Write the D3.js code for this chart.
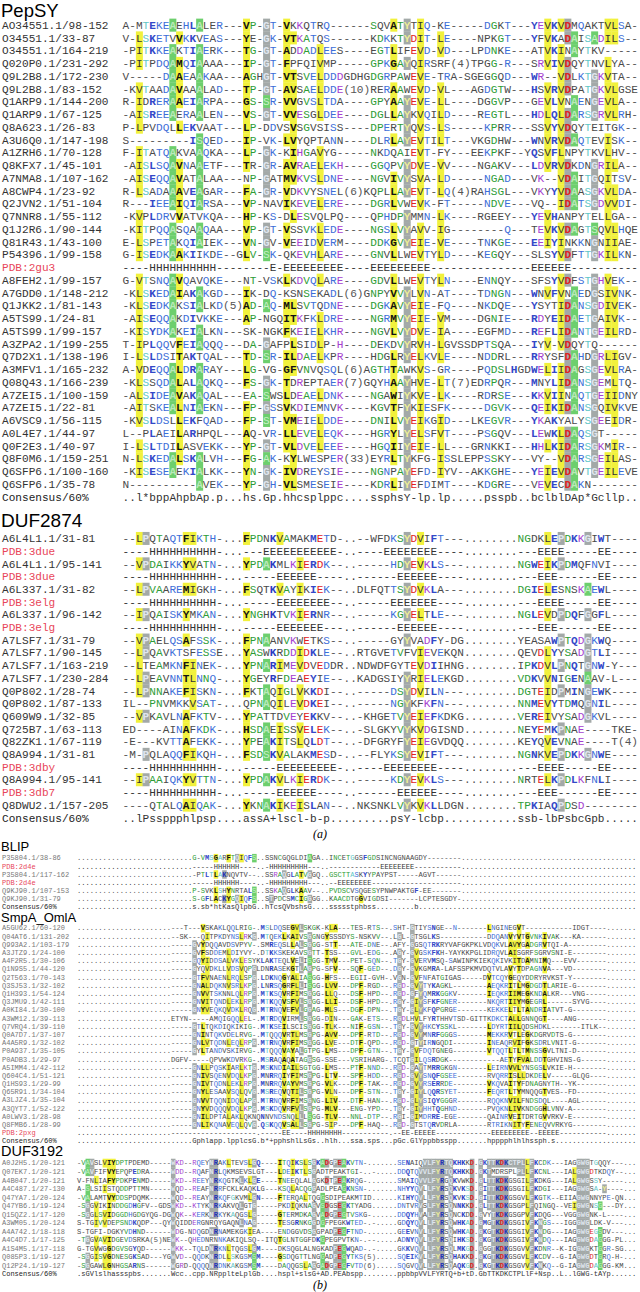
<!DOCTYPE html>
<html>
<head>
<meta charset="utf-8">
<script src="https://cdnjs.cloudflare.com/ajax/libs/d3/7.8.5/d3.min.js"></script>
<style>
  body { margin: 0; background: #fff; }
  text { font-family: "Liberation Mono", "Courier New", monospace; }
  .title { font-family: "Liberation Sans", Arial, sans-serif; }
  .panel { font-family: "Liberation Serif", "Times New Roman", serif; font-style: italic; }
</style>
</head>
<body>
<script>
// ---------- (a) PepSY ----------
var pepsyNames = ['AO34551.1/98-152', 'O34551.1/33-87', 'O34551.1/164-219', 'Q020P0.1/231-292',
  'Q9L2B8.1/172-230', 'Q9L2B8.1/83-152', 'Q1ARP9.1/144-200', 'Q1ARP9.1/67-125', 'Q8A623.1/26-83',
  'A3U6Q0.1/147-198', 'A1ZRH6.1/70-128', 'Q8KFX7.1/45-101', 'A7NMA8.1/107-162', 'A8CWP4.1/23-92',
  'Q2JVN2.1/51-104', 'Q7NNR8.1/55-112', 'Q1J2R6.1/90-144', 'Q81R43.1/43-100', 'P54396.1/99-158',
  'PDB:2gu3', 'A8FEH2.1/99-157', 'A7GDD0.1/148-212', 'Q1JKK2.1/81-143', 'A5TS99.1/24-81',
  'A5TS99.1/99-157', 'A3ZPA2.1/199-255', 'Q7D2X1.1/138-196', 'A3MFV1.1/165-232', 'Q08Q43.1/166-239',
  'A7ZEI5.1/100-159', 'A7ZEI5.1/22-81', 'A6VSC9.1/56-115', 'A0L4E7.1/44-97', 'Q0F2E3.1/40-97',
  'Q8F0M6.1/159-251', 'Q6SFP6.1/100-160', 'Q6SFP6.1/35-78', 'Consensus/60%'];

var pepsySeqs = [
  'A-MTEKEAEHLALER---VP-GT-VKKQTRQ------SQVATYTIQ-KE-----DGKT---YEVKVDMQAKTVLSA-',
  'V-LSKETVVKKVEAS---YE-GK-VTKATQS------KDKKTYDIT-LE----NPKGT---YFVKADAISADILS--',
  '-PITKKEAKTIAERK---TG-GT-ADDADLEES----EGTLIFEVD-VD---LPDNKE---ATVKINAYTKV-----',
  '-PITPDQAMQIAAAA---IP-GT-FPFQIVMP-----GPKGAYQIRSRF(4)TPGG-R---SRVIVDQYTNVLYA--',
  'V-----DAAEAAKAA---AGHGT-VTSVELDDDGDHGDGRPAWEVE-TRA-SGEGGQD---WR--VDLKTGKVTA--',
  '-KVTAADAVAAALAD---TP-GT-AVSAELDDE(10)RERAAWEVD-VL---AGDGTW---HSVRVDPATGKVLGSE',
  'R-IDRERAAEIARPA---GS-SR-VVGVSLTDA----GPYAAYEVE-LL----DGGVP---GEVLVNAENGEVLA--',
  '-AISREEAERAALEN---VS-GT-VVESGLDEE----DGLLAYKVQILD----REGTL---HDLQLDARSGRVLRH-',
  'P-LPVDQLLEKVAAT---LP-DDVSVSGVSISS----DPERTYQVS-LS-----KPRR---SSVYVDQYTEITGK--',
  'S---------ISQED---IP-VK-LVYQPTANN----DLRLAYEVTILT---VKGDHW---WNVRVDAQTEVISK--',
  'F-ITATQAKVAAQKA---LP-GK-KIHGAVYG-----NKDQAIEVT-FY---EEKPKF--YQSVFLNPYTKVLHV--',
  '-AISLSQAVNAAETF---TR-GR-AVRAELEKH----GGQPVYDVE-VV----NGAKV---LDVRVDKDNGRILA--',
  '-AISEQQAVATALAA---NP-GATMVKVSLDNE----NGVIVYSVA-LD-----NGAD---VK--VDAITGQITSV-',
  'R-LSADAAAVEAGAR---FA-GR-VDKVYSNEL(6)KQPLLAYEVT-LQ(4)RAHSGL---VKYYVDAASGKVLDA-',
  'R---IEEAIQIARSA---VP-NAVIKEVELERE----DGRLVWEVK-FT-----NDVE---VQ--IDATSGDVVDI-',
  '-KVPLDRVVATVKQA---HP-KS-DLESVQLPQ----QPHDPYMMN-LK----RGEEY---YEVHANPYTELLGA--',
  '-KITPQQASQAAQAA---VP-GT-VSSVKLEDE----NGSLVYAVV-IG--------Q---TEVKVDAGTSQVLHQE',
  'E-LSPETAKQIAIEK---VN-GV-VEEIDVERM----DDKGVYEIE-VE----TNKGE---EEIYINKKNGNIIAE-',
  'G-ISEDKAAKIIKDE--GLV-SK-QKEVHLARE----GNVLLWEVTYLD----KEGQY---SLSYVDFTTGKILKN-',
  '----HHHHHHHHHH--------E-EEEEEEEEE----EEEEEEEEE---------------EEEEEE----------',
  'G-VTSNQAVQAVQKE---NT-VSKLKDVQLARE----GDVLLWEVTYLN----ENNQY---SFSYVDFSTGHVEK--',
  '-KLSKEDAIAKAKGD---IK-DQ-KSNSEKADL(6)GNPYVVYLVN-AT----TDNGN---WNVFVNAEDGSIVNK-',
  '-KLSEDKAKSIALKD(5)AD-AQ-MLSVTQDNE----DGKAVYEIE-FQ----NKDQE---YSYTIDANSGDIVEK-',
  '-AISEQQAKDIVKKE---AP-NGQITKFKLDRE----NGRMVYEIE-VM----DGNIE---RDYEIDAETGAIVK--',
  '-KISYDKAKEIALKN---SK-NGKFKEIELKHR----NGVLVYDVE-IA----EGFMD---REFLIDANTGEILRD-',
  'T-IPLQQVFEIAQQQ---DA-GAFPLSIDLP-H----DEKDVYRVH-LGVSSDPTSQA---IYV-VDQYTQ------',
  'I-LSLDSITAKTQAL---TD-SR-ILDAELKPR----HDGLRYELKVLE----NDDRL---RRYSFDAHDGRLIGV-',
  'A-VDEQQALDRARAY---LG-VG-GFVNVQSQL(6)AGTHTAWKVS-GR----PQDSLHGDWELIIDAGSGEVLRA-',
  '-KLSSQDALALAQKQ---FS-GK-TDREPTAER(7)GQYHAAYHVE-LT(7)EDRPQR---MNYLIDANSGEMLTQ-',
  '-ALSIDEAVAKAQAL---EA-SWSLDEAELDNK----NGAWIYKVE-LK----RDRSE---KKVIINAQTGEIIDNY',
  '-AITSKEALNIAEKN---FP-GSSVKDIEMNVK----KGVTFYKIESFK-----DGVK---QEIKIDANSGQIVKVE',
  '-KVSLDSLLEKFQAD---FP-ST-VMEIELDDE----DNILVYEIKGID---LKEGVR---YKAKYALYSGEEIDR-',
  'L--PLAEILARHPQL---AQ-VR-LLEVELEQK----HGRYLYELSFVT----PSGQV---LEWKLDAQSGT-----',
  'I-LSLTDILASVEKK---YP-GT-VLDVELEEE----HGQIIYEIE-LL---GRNKKI---HHLKIDARSGKMIR--',
  'N-LSKEDALSKALVH---FG-AK-KYLWESPER(33)EYRLTYKFG-ISSLEPPSSKY---VY--VDARSGEILAS-',
  '-KISESEAEKIALKK---YN-GK-IVDREYSIE----NGNPAYEFD-IYV--AKKGHE---YEIEVDAVTGEILEVE',
  'N----------AVEK---YP-GH-VLSMESEIE----KDRLIYEFDIMT----KDGRE---VEVECDAKN-------'
];
var pepsyCons = '..l*bppAhpbAp.p...hs.Gp.hhcsplppc....ssphsY-lp.lp.....psspb..bclblDAp*Gcllp..';

// ---------- (a) DUF2874 ----------
var duf2874Names = ['A6L4L1.1/31-81', 'PDB:3due', 'A6L4L1.1/95-141', 'PDB:3due', 'A6L337.1/31-82',
  'PDB:3elg', 'A6L337.1/96-142', 'PDB:3elg', 'A7LSF7.1/31-79', 'A7LSF7.1/90-145', 'A7LSF7.1/163-219',
  'A7LSF7.1/230-284', 'Q0P802.1/28-74', 'Q0P802.1/87-133', 'Q609W9.1/32-85', 'Q725B7.1/63-113',
  'Q82ZK1.1/67-119', 'Q8A994.1/31-81', 'PDB:3dby', 'Q8A994.1/95-141', 'PDB:3db7', 'Q8DWU2.1/157-205',
  'Consensus/60%'];

var duf2874Seqs = [
  '--LPQTAQTFIKTH-...FPDNKVAMAKMETD-..--WFDKSYDVIFT---........NGDKLEPDKKGIWT----',
  '----HHHHHHHHHH-...---EEEEEEEEEEE-..----EEEEEEEE----........---EEEE-----EE----',
  '--VPDAIKKYVATN-...YPDAKMLKIERDK--..-----HDYEVKLS---........NGWEIKPDMQFNVI----',
  '----HHHHHHHHHH-...-----EEEEEE----..------EEEEEE----........---EEE------EE----',
  '--LPVAAREMIGKH-...FSQTKVAYIKIEK--..DLFQTTSYDVKLA---........DGIELESNSKAEWL----',
  '----HHHHHHHHHH-...-----EEEEEEEE--..-----EEEEEEE----........---EEEE-----EE----',
  '--IPQAISKYMKAN-...YNGHKTVKIERNR--..-----KGYELTLE---........NGLEVDPDQFGGFL----',
  '----HHHHHHHHHH-...-----EEEEEEE---..------EEEEEE----........---EEE------EE----',
  '--VPAELQSAFSSK-...FPNAANVKWETKS--..-----GYYVADFY-DG........YEASAWPTQDGKWQ----',
  '--LPQAVKTSFESSE...YASWKRDDIDKLE--..RTGVETVFVIEVEKQN........QEVDLYYSADGTLI----',
  '--LTEAMKNFINEK-...YPNARIMEVDVEDDR..NDWDFGYTEVDIIHNG........IPKDVLPNQTGNW-Y---',
  '--LPEAVNNTLNNQ-...YGEYRFDEAEYIE--..KADGSIYYRIELEKGD........VDKVVNIGENAAV-L---',
  '--LPNNAKEFISKN-...FKTAQIGLVKKDI--..-----DSYDVILN---........DGTEIDPMINGEWK----',
  'IL--PNVMKKVSAT-...QPNAQILEVDKEI--..-----NGYKFKFN---........NNMEVYTDMQGNIL----',
  '--VPKAVLNAFKTV-...YPATTDVEYEKKV--..-KHGETVYEIEFKDKG........VEREIVYSADGKVL----',
  'ED----AINAFKDK-...HSDAEISSVELEK--..-SLGKYVYKVDGISND........NEYEMKPNAE----TKE-',
  '-E---KVTTAFEKK-...YPEAKITSLQLDT--..-DFGRYFYEIEGVDQQ........KEYQVEVNAE----T(4)',
  '-M-PQLAQQFIKQH-...FSDSKVALAKMESD-..--FLYKSYEVIFT---........NGNKVEPDKKGNWE----',
  '----HHHHHHHHHH-...-----EEEEEEEEE-..----EEEEEEEE----........---EEEE-----EE----',
  '--IPAAIQKYVTTN-...YPDAKVLKIERDK--..-----KDYEVKLS---........NRTELKPDLKFNLI----',
  '----HHHHHHHHHH-...-----EEEEEE----..------EEEEEE----........---EEE------EE----',
  '----QTALQAIQAK-...YKNAKIKEISLAN--..NKSNKLVYKVKLLDGN........TPKIAQPDSD--------'
];
var duf2874Cons = '..lPssppphlpsp....assA+lscl-b-p.........psY-lcbp...........ssb-lbPsbcGpb.....';

// ---------- (b) BLIP ----------
var blipNames = ['P35804.1/38-86', 'PDB:2d4e', 'P35804.1/117-162', 'PDB:2d4e', 'Q9KJ90.1/107-153',
  'Q9KJ90.1/31-79', 'Consensus/60%'];
var blipSeqs = [
  'G-VMSGARFTQIQFS|..|SSNCGQGLDIAGA|..|INCETGGSFGDSINCNGNAAGDY|--------',
  '-----HHHHHH----|..|-HHHHHHHHH---|..|------------EEEEEEEE---|--------',
  '-PTLTLAKNQVTV--|..|SSRAQGLATVGGQ|..|GSCTTASKYYPAYPST-----AG|VT------',
  '-----HHHHHH----|..|-HHHHHHHHH---|..|--EEEEEEEE-------------|--------',
  'P-SVKLSHYNRTALS|..|SSKAQGLKAAV--|..|PVDSCVSQGESYPNWPAKTGF-E|E-------',
  'S-GFLACKYGQIQFS|..|STPDCSMCIGGGG|..|KAACDTGGVIGDSI-------LC|PTESGDY-'
];
var blipCons = 's.sb*htKasQlpbG|..|hTcsQVbshsG..|..|ssssstphbss.........b..|........';

// ---------- (b) SmpA_OmlA ----------
var smpaNames = ['A5GU62.1/60-120', 'Q04AT6.1/131-202', 'Q993A2.1/103-179', 'A3JTZ9.1/24-100',
  'A4F2R5.1/30-106', 'Q1N9S5.1/44-120', 'Q2T563.1/70-143', 'Q3SJ53.1/32-102', 'Q1H393.1/54-124',
  'Q3JMU9.1/42-111', 'A0KI84.1/30-100', 'A3WM12.1/39-113', 'Q7VRQ4.1/39-110', 'Q0A7D7.1/37-107',
  'A4A5R9.1/32-102', 'P0A937.1/35-105', 'P0ADB3.1/29-97', 'A5IMM4.1/42-112', 'Q604C4.1/51-121',
  'Q1HS93.1/29-99', 'Q65R91.1/34-104', 'A3LJZ4.1/35-104', 'A3QYT7.1/52-122', 'A0LWV3.1/28-98',
  'Q8FMB6.1/28-99', 'PDB:2pxg', 'Consensus/60%'];
var smpaSeqs = [
  '---T-|--VSKAKLQQLRIG|.|MSLDQSEGVLSKGK|-KLA|---|TES-|RTS--|.|SHT-|GTIYSNGE--N-------|LNGINEGVT-----------|IDGT----',
  '--SK-|--QITPKDYNSLRKG|.|MTQEKLKAIVSGGN|GYSS|SDY|S-NS|KVV--|.|LGL-|GTSGLKS-----------|DDQANVYVTGVNKIVAK---|KA------',
  '-----|GVYDQQAVDSVPYV-|.|SMREQSLLALSGGG|-STT|---|ATE-|DNE--|.|AFY-|GGSQTRKRYVAFGKPKLV|DQKVLAVYGADGRVTQI-A-|--------',
  '-----|GVFSDDEMLDIYVY-|.|DTKKSKEKAVSGTT|-TSS|---|GVL-|EDG--|.|AGY-|GVGSKFKH-YAYKKPGLI|DRQVLAISGRFSGRVSNI-E|--------',
  '-----|GQYIDDSALVKLESY|K|LAKTEQLVELISGG|-TMV|---|PET-|SQN--|.|TGY-|GVERVMSQ-SAWINPKIE|KQKIVKITDAMNIMQ---EV|V-------',
  '-----|GYQVDKLLVDSVQPG|L|DNRASEKGTLAGPG|-SFV|---|SQF-|GED--|.|DGY-|GVKGMRA-LAFSSPKMVD|QTVLAVYTDPAGNVA---VD|--------',
  '-----|GTFVNAENLRQLSPG|.|LDKNQGYALIASGG|-HFS|---|EGII|-GVH-|.|VGN-|GVFNFATGIGAS-----D|VTCQYGEQYDDRYRVKST-Y|--------',
  '-----|GNALDQKNVSRLKPG|.|LNRSQGRFLLISGG|-LVV|---|DPF-|RGD--|.|RGD-|GVYTYKAGKL--------|AEQKRITLMGDGDTLARIE-|G-------',
  '-----|GNVVTSKNNLQLRPG|.|MTKSQVRFIMSGGG|-LLQ|---|DSF-|HPD--|.|RGD-|GFYQMRKGGKV-------|IEQKRIIMEGKNDALKR---|VNG-----',
  '-----|GNVITQNDLEKLRPG|.|MTKQQVSFVLSGGG|-LLI|---|DSF-|HPD--|.|RGY-|GIYSFKFGNER-------|NKQRTIIYMGEGRL------|SYVG----',
  '-----|GNYVEQKQVDKLRQG|.|MTRNQVEFVLGGAG|-MLS|---|DGF-|DPN--|.|TGY-|GLYKFQPGRGE-------|KEKKELTLTANDRIATVT-G|--------',
  'ETYN-|----AMQIGQQLEL-|.|MTRDQVIRMLSGGG|-DIN|---|GAK-|ETS--|.|RGDL|HVLFYRTHHVTSD-GITT|KDKCTALLGNNQGT----AN|G-------',
  '-----|GTLTQKDIQKIKIG-|.|MTKSEILSCISGGG|-TLK|---|NIF-|GSN--|.|TGY-|GVYHKCYSSKL-------|LDYRTIILQDSHDKL-----|--ITLK--',
  '-----|GNINTQKVDELRVG-|.|MTQQQVRTLMSGPG|-AVV|---|DPF-|RTD--|.|RGD-|GVYMNRFGGGS-------|MEKKRVTLEGKDGRVDTS-G|--------',
  '-----|GNLVTQDNLEQLRPG|.|MTRNQVRFIMSGGG|-LVE|---|DTF-|QPD--|.|RGD-|GTYIRNGQDI--------|INEAQRVIFGKSDRLVNIT-|G-------',
  '-----|GYLTANDVSKIRVG-|.|MTQQQVAYALGTPG|-LMS|---|DPF-|GTN--|.|TGY-|GVFDQTGNEG--------|VTQQTLTLTMNSSGVLTNI-|D-------',
  'DGFV-|----QPVWKDVRKG-|.|MSRAQAQATAGGSG|-SSE|---|VSRI|HARG-|.|TCQT|GILQSRDGK---------|---AETYFVALDDTGHVINS|-G------',
  '-----|GNLLPQSKIARLKTG|.|MSKNDIAILSGTGG|-LMS|---|PTF-|NND--|.|RGD-|GAYTMRRGKGN-------|LEIRNVVLYNSGSLVKIE-H|--------',
  '-----|GNIVSQENVDQLKPG|.|MNRRQIYFIMSGPG|-LTV|---|SPF-|HDD--|.|RGD-|GVYSNQFGSEE-------|RVQRRISLLDKDELV-----|GLQG----',
  '-----|GNIVTQDNLEKLRPG|.|MNRRQVAYVMSGPG|-VLK|---|DPF-|TAK--|.|RGD-|GVYRSERRDE--------|VKQVAITYFDNAGNYTH--Y|K-------',
  '-----|GNYLESAAVSQLQVG|.|MSREQVQTILSGPG|-VLN|---|DPF-|STN--|.|TGY-|GIYLQQRSYET-------|FEQRTLTYMNQQGTVES--F|D-------',
  '-----|GNVVTQQNIDQLAPG|.|MTRNQVRFIMSGNG|-LIV|---|DTF-|HAN--|.|RGD-|GLYSIQYGGGR-------|RQQKNVILFNDSDQL----A|GL------',
  '-----|GNYVDQQQVDQLKPG|.|MSKDQVRFVLSGPG|-MLV|---|ENG-|YPD--|.|TGY-|GIYHHTQGHND-------|PVQKNLIVKNDGGHLVNV-A|--------',
  '-----|GNILDPTALAKLQKN|Q|NNVNDSNQLLLSGG|-TLV|---|NNL-|DTP--|.|RGI-|GIMDRRE-EGE-------|QAINRVEITDRTGVVRKV-E|--------',
  '-----|GNLIKQNAVEQLQVG|.|QSKQQVSALLSGPG|-SIP|---|DPF-|HAQ--|.|RGD-|GTSTQRVDRLA-------|RTRIKNITYFENEQVVRKYG|--------',
  '-----|---------------|.|-----EE----HHH|HHHH|H--|----|-----|.|--EE|-EEEEE------------|-EEEEEEEEE--EEEEE---|--------'
];
var smpaCons = '.....|Gphlapp.lpplcsG|.|b*+pphshlLsGs.|.hlh|...|ssa.|sps..|.|pGc.|GlYppbbsspp.......|hpppphlhlhssph.s....|........';

// ---------- (b) DUF3192 ----------
var duf3192Names = ['A0J2H5.1/20-121', 'Q07EK7.1/20-121', 'A4B047.1/20-121', 'A4C487.1/27-130',
  'Q47YA7.1/20-124', 'Q47YB6.1/19-124', 'Q15QZ2.1/17-120', 'A3WM05.1/20-124', 'A4A742.1/18-118',
  'A4C4D7.1/17-125', 'A1S4M5.1/17-118', 'Q085P3.1/19-127', 'Q12P24.1/19-127', 'Consensus/60%'];
var duf3192Seqs = [
  '-VAVSLVIYDPTPDEMD|-----WKD-|-RQEYNRAKLTEVSLGQ-|---|ITQIKSLSGKADGPEAKVTN-..|.....|SENAIQ|VLFYRTQ|KHKKD.|GKTTKDKCTPLLFKCDK--|-IAG|GWGTGQQY---',
  '-VAVFIFVYEPQPEDRA|-----WDD-|-RQAFNRLQKMSEVSLGT|---|LDEIKTLSGADTPEAKTGI-..|.....|DDQTQV|VLFYRTQ|KHKKD.|GKTMDRSPLPLLFKCNL--|-IAL|GWGDTKDQY--',
  'V-FNLIAFYPDKPENMD|-----WKD-|-REEYNRKQGTKLKLGE-|---|TNEEQLALGGKDTPEAKRQG-..|.....|SMAIQV|VLFYRGQ|KVWKD.|GLTTKDKGSGILFKDKG--|-IAL|GWGSSY-----',
  'A-SLSIISTQDDPTTMN|-----WQD-|-REAFNRRFCKLKAQKLG|---|KSQLACQGGADLPEAGKNSN-..|.....|NHYYQV|LLFYRSQ|KVKSD.|GITTKDKGSGILFKDGI--|-IAG|GWGSA-Y----',
  '-VALAMTVYDDSPDQMK|-----WQD-|-REAYNRKQFGKVMLGN-|---|FTERQALTQGGSDIPEAKMTID.|.....|KIHYQV|LLFYRSQ|KVKSD.|GITTKDKGSGVLFKGTK--|EIIA|GWGNNYPE-QN',
  '-SGGVIKINDDGDHGFV|--GDSWKD-|-KTYKNRKAKVQLGTG--|---|PKDIQKNAGVSDGSEGKTYADG.|.....|DNTVRV|SLFYRSQ|NNKKD.|GLTTKDKGSGPLFQINGQ-|-VEI|GWGNSG---DY',
  '-SGGLSVIDGGDHGDGY|QG-DGWQK-|-KERKNRKYKAQGSLG--|---|GTERMDKAGVADGPEGTVSKG-.|.....|DDQYHV|ALFYRSQ|NCKDD.|GVYTKDKGSGPVFKDQG--|-VGG|GWGNK-L----',
  'S-TGIVVDEPSNDKQDP|---QYWQID|DERGNRQYGAQNLNAG--|---|TESGRNKGGDGFPEGKWTED-.|.....|GDQYQV|LLFYRSQ|WHKAD.|GMGTKDKGSGIVFKNGS--|-IGG|GWGLDK-V---',
  'S-TGFI-DGKYVDHND-|-----WDG-|NDQGDNRNAMEKGKIEA-|---|ENDGGVDSGGPADPEGFTND-..|.....|GEEVNV|LLFYRSQ|WHKAD.|GKGTKDKGSGIVFKNDG--|-IAG|GWGEGSDV---',
  '-TGGVAVIDGEVDSRKA|(5)NEWK--|QHEDNRNNKAKIQLSQ--|ITQ|TGLNTGGFDKGPEGPVTKN-.|.....|ADNYQV|LLFYRSQ|IHKSD.|GKGTKDKGSGIVFKNDQ--|-IAG|GWGDAGGG-PL',
  'G-TGVWGGDGVSGYQD-|-----WKK-|-TQLDNRKNLTQGSLGM-|---|DKSQGLALNGKADPEGWQAD-.|.....|GKKVQV|LLFYRSQ|LMKGD.|GGGTKDKGSGVVFKDNR--|K-IG|GWGKTGGR-SG',
  '-SGGISVGDNESGKSAD|---YGWVD-|-QQDKNRDLLSKGSMSM-|---|GSDQGTTLNGGADPEGYTKS(5)|.....|SQEIKV|LLFYRSQ|HAKKD.|GKGTKDKGSGVLFKCDV--|G-IA|GWGDTGRQ-H-',
  '-SGGAWLGNHGSARNS-|-----WGRD|-QQQQNRDNKAKGSMSM-|---|DAQQGSLAGGADGPEGFVTD(6)|.....|SQGVQV|LLFYRSQ|AQKGD.|GKGTKDKGSGVVFKNKQ--|G-IA|GWGDAGGG-KM'
];
var duf3192Cons = '.sGVlslhassspbs..|.....Wcc.|.cpp.NRpplteLplGb.|...|hspl+slsG+AD.PEAbspp...|.....|ppbbpV|VLFYRTQ|+b+tD.|GbTTKDKCTPLlF+Nsp..|L..l|GWG-tAYp...';

// ---------- layout ----------
var W = 640, H = 1292;
var SEG_BLIP = [15, 2, 13, 2, 23, 8];
var SEG_SMPA = [5, 15, 1, 14, 4, 3, 4, 5, 1, 4, 18, 20, 8];
var SEG_DUF3192 = [17, 9, 18, 3, 23, 5, 6, 7, 6, 19, 4, 11];
var BNCOL = 131;

var YEL = '#f1f13c', GRAY = '#a3a9a8', GRN = '#6dcf6d';
var sets = {
  h: 'ACFGHILMTVWY', l: 'ILV', a: 'FHWY', s: 'ACDGNPSTV', '*': 'ST', o: 'ST', t: 'AGS', u: 'AGS',
  p: 'CDEHKNQRST', c: 'DEHKR', '-': 'DE', '+': 'HKR', b: 'EFHIKLMNQRWY'
};

function buildRow(str, widths, lead, pad) {
  var parts = str.split('|');
  var out = '.'.repeat(lead);
  widths.forEach(function(w, i) {
    var p = parts[i] || '';
    out += (p + pad.repeat(w)).slice(0, w);
  });
  while (out.length < BNCOL) out += '.';
  return out.slice(0, BNCOL);
}

function cellStyle(r, c, plain) {
  var st = { bg: null, fill: '#4a4a4a', bold: false };
  if (plain || !/[A-Z]/.test(r)) { st.fill = plain ? '#333' : '#555'; return st; }
  if (/[A-Z]/.test(c)) {
    if (r === c) {
      st.bg = c === 'A' ? GRN : GRAY;
      st.bold = true;
      if (r === 'D' || r === 'E') st.fill = '#e02222';
      else if (r === 'K' || r === 'R') st.fill = '#2233b8';
      else if (r === 'Y') st.fill = '#ecec96';
      else if (r === 'A') st.fill = '#b9e9b9';
      else st.fill = '#dfe5ee';
    } else if ('AGS'.indexOf(c) >= 0 && 'AGS'.indexOf(r) >= 0) {
      st.bg = GRN; st.fill = '#c6efc6';
    }
    return st;
  }
  var set = sets[c];
  if (!set || set.indexOf(r) < 0) return st;
  switch (c) {
    case 'h': case 'a': st.bg = YEL; st.fill = '#111'; st.bold = true; break;
    case 'l': st.bg = YEL; st.fill = '#333'; break;
    case 's': st.fill = '#2e9c36'; break;
    case '*': case 'o': case 't': case 'u': st.fill = '#5ec6c6'; break;
    case 'p': st.fill = '#3d6ed8'; break;
    case 'c': st.fill = '#a53fd0'; break;
    case '-': st.fill = '#e02222'; break;
    case '+': st.fill = '#2a3cc2'; st.bold = true; break;
    case 'b': st.fill = '#3348c8'; st.bold = true; break;
  }
  return st;
}

var svg = d3.select('body').append('svg')
  .attr('width', W).attr('height', H)
  .style('display', 'block');
var gBg = svg.append('g');
var gTx = svg.append('g');

function drawBlock(b) {
  var rows = b.seqs.concat([b.cons]);
  var ncol = d3.max(rows, function(s) { return s.length; });
  var x = d3.scaleLinear().domain([0, ncol]).range([b.x0, b.x0 + ncol * b.cw]);
  var y = d3.scaleLinear().domain([0, rows.length - 1]).range([b.y0, b.y1]);
  var rh = (b.y1 - b.y0) / (rows.length - 1);

  gTx.append('text').attr('class', 'title')
    .attr('x', 1).attr('y', b.titleY)
    .attr('font-size', b.titleSize).attr('fill', '#000')
    .text(b.title);

  gTx.selectAll(null).data(b.names).enter().append('text')
    .attr('x', 2).attr('y', function(d, i) { return y(i); })
    .attr('dy', '0.35em')
    .attr('font-size', b.nameSize)
    .attr('fill', function(d) { return d.indexOf('PDB:') === 0 ? '#e8465a' : (d.indexOf('Consensus') === 0 ? '#222' : b.nameColor); })
    .text(function(d) { return d; });

  var cells = [];
  rows.forEach(function(s, ri) {
    var plain = ri === rows.length - 1 || b.names[ri].indexOf('PDB:') === 0;
    for (var ci = 0; ci < s.length; ci++) {
      var st = cellStyle(s[ci], b.cons[ci] || '.', plain);
      cells.push({ r: ri, c: ci, ch: s[ci], bg: st.bg, fill: st.fill, bold: st.bold });
    }
  });

  gBg.selectAll(null).data(cells.filter(function(d) { return d.bg; })).enter().append('rect')
    .attr('x', function(d) { return x(d.c); })
    .attr('y', function(d) { return y(d.r) - rh / 2; })
    .attr('width', b.cw + 0.3)
    .attr('height', rh + 0.3)
    .attr('fill', function(d) { return d.bg; });

  gTx.selectAll(null).data(cells.filter(function(d) { return d.ch !== ' '; })).enter().append('text')
    .attr('x', function(d) { return x(d.c) + b.cw / 2; })
    .attr('y', function(d) { return y(d.r); })
    .attr('dy', '0.35em')
    .attr('text-anchor', 'middle')
    .attr('font-size', b.fontSize)
    .attr('font-weight', function(d) { return d.bold ? 'bold' : 'normal'; })
    .attr('fill', function(d) { return d.fill; })
    .text(function(d) { return d.ch; });
}

var bSeq = function(arr, w, lead) { return arr.map(function(s) { return buildRow(s, w, lead, '-'); }); };

drawBlock({ title: 'PepSY', titleY: 16.5, titleSize: 18.5, names: pepsyNames, seqs: pepsySeqs, cons: pepsyCons,
  x0: 122.5, cw: 6.695, y0: 25, y1: 496.8, fontSize: 11.1, nameSize: 11.1, nameColor: '#333' });
drawBlock({ title: 'DUF2874', titleY: 527, titleSize: 19, names: duf2874Names, seqs: duf2874Seqs, cons: duf2874Cons,
  x0: 122.5, cw: 6.695, y0: 538.3, y1: 817.7, fontSize: 11.1, nameSize: 11.1, nameColor: '#333' });

drawBlock({ title: 'BLIP', titleY: 851, titleSize: 13, names: blipNames,
  seqs: bSeq(blipSeqs, SEG_BLIP, 27), cons: buildRow(blipCons, SEG_BLIP, 27, '.'),
  x0: 77, cw: 4.27, y0: 858, y1: 907, fontSize: 7.1, nameSize: 7, nameColor: '#777' });
drawBlock({ title: 'SmpA_OmlA', titleY: 922, titleSize: 13, names: smpaNames,
  seqs: bSeq(smpaSeqs, SEG_SMPA, 22), cons: buildRow(smpaCons, SEG_SMPA, 22, '.'),
  x0: 77, cw: 4.27, y0: 928, y1: 1141, fontSize: 7.1, nameSize: 7, nameColor: '#777' });
drawBlock({ title: 'DUF3192', titleY: 1156, titleSize: 14.5, names: duf3192Names,
  seqs: bSeq(duf3192Seqs, SEG_DUF3192, 0), cons: buildRow(duf3192Cons, SEG_DUF3192, 0, '.'),
  x0: 77, cw: 4.27, y0: 1163, y1: 1274, fontSize: 7.1, nameSize: 7, nameColor: '#777' });

gTx.append('text').attr('class', 'panel').attr('x', 320).attr('y', 838)
  .attr('text-anchor', 'middle').attr('font-size', 12).text('(a)');
gTx.append('text').attr('class', 'panel').attr('x', 320).attr('y', 1289)
  .attr('text-anchor', 'middle').attr('font-size', 12).text('(b)');
</script>
</body>
</html>
